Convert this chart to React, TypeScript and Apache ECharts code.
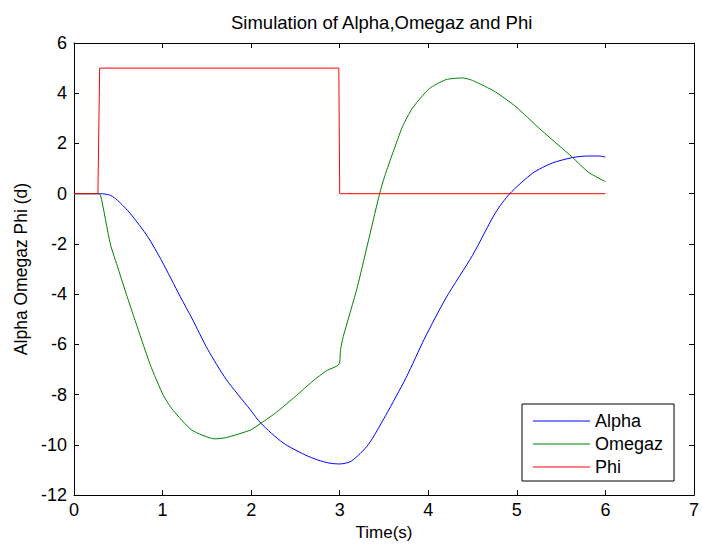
import React, { useEffect, useRef } from "react";
import * as echarts from "echarts";

const titleText = "Simulation of Alpha,Omegaz and Phi";
const xName = "Time(s)";
const yName = "Alpha Omegaz Phi (d)";
const seriesNames = ["Alpha", "Omegaz", "Phi"];
const seriesColors = ["#0000FF", "#008000", "#FF0000"];

const alphaData: [number, number][] = [
  [0, 0], [0.3, 0], [0.4, -0.05], [0.47, -0.2], [0.56, -0.5], [0.65, -0.85],
  [0.83, -1.7], [0.99, -2.67], [1.2, -4.1], [1.33, -4.95], [1.51, -6.2],
  [1.72, -7.4], [1.99, -8.6], [2.11, -9.14], [2.36, -9.92], [2.61, -10.4],
  [2.75, -10.6], [2.89, -10.73], [3.0, -10.76], [3.13, -10.65], [3.32, -10.0],
  [3.52, -8.82], [3.75, -7.32], [3.96, -5.75], [4.2, -4.15], [4.5, -2.45],
  [4.76, -0.75], [4.92, 0], [5.18, 0.82], [5.4, 1.22], [5.63, 1.44],
  [5.8, 1.5], [5.93, 1.5], [6.0, 1.46],
];

const omegazData: [number, number][] = [
  [0, 0], [0.27, 0], [0.3, -0.05], [0.41, -2.0], [0.5, -3.0], [0.6, -4.1],
  [0.86, -6.8], [1.01, -8.04], [1.12, -8.63], [1.33, -9.41], [1.59, -9.76],
  [1.72, -9.71], [1.99, -9.41], [2.11, -9.14], [2.29, -8.69], [2.51, -8.04],
  [2.7, -7.45], [2.85, -7.05], [2.99, -6.8], [3.01, -6.2], [3.04, -5.69],
  [3.2, -3.7], [3.45, 0], [3.51, 0.72], [3.6, 1.63], [3.71, 2.68], [3.82, 3.4],
  [4.01, 4.18], [4.2, 4.54], [4.39, 4.61], [4.5, 4.51], [4.76, 4.05],
  [4.99, 3.46], [5.25, 2.61], [5.63, 1.44], [5.81, 0.85], [6.0, 0.48],
];

const phiData: [number, number][] = [
  [0, 0], [0.27, 0], [0.29, 5], [2.99, 5], [3.0, 0], [6.0, 0],
];

const xMin = 0, xMax = 7, xInterval = 1;
const yMin = -12, yMax = 6, yInterval = 2;

const FONT = "'Liberation Sans', Arial, Helvetica, sans-serif";

export default function App() {
  const ref = useRef<HTMLDivElement>(null);
  useEffect(() => {
    if (!ref.current) return;
    const chart = echarts.init(ref.current, undefined, { renderer: "svg" });
    const axisLine = { show: true, onZero: false, lineStyle: { color: "#000", width: 1 } };
    const tick = { show: true, inside: true, length: 5, lineStyle: { color: "#000" } };
    chart.setOption({
      animation: false,
      backgroundColor: "#fff",
      textStyle: { fontFamily: FONT },
      title: {
        text: titleText,
        left: 226,
        top: 8,
        padding: 5,
        textStyle: { fontFamily: FONT, fontSize: 18.5, fontWeight: "normal", color: "#000" },
      },
      grid: { left: 74, right: 7, top: 43, bottom: 45, containLabel: false },
      legend: {
        data: seriesNames,
        orient: "vertical",
        left: 522,
        top: 404,
        padding: [8, 11, 5, 11],
        itemGap: 5,
        itemWidth: 57,
        itemHeight: 1.2,
        icon: "rect",
        borderColor: "#000",
        borderWidth: 1,
        backgroundColor: "#fff",
        textStyle: { fontFamily: FONT, fontSize: 18, color: "#000" },
      },
      xAxis: [
        {
          type: "value", min: xMin, max: xMax, interval: xInterval,
          name: xName, nameLocation: "middle", nameGap: 28,
          nameTextStyle: { fontFamily: FONT, fontSize: 17, color: "#000" },
          axisLine, axisTick: tick, splitLine: { show: false },
          axisLabel: { fontFamily: FONT, fontSize: 18, color: "#000", margin: 6 },
        },
        {
          type: "value", position: "top", min: xMin, max: xMax, interval: xInterval,
          axisLine, axisTick: tick, splitLine: { show: false }, axisLabel: { show: false },
        },
      ],
      yAxis: [
        {
          type: "value", min: yMin, max: yMax, interval: yInterval,
          name: yName, nameLocation: "middle", nameGap: 43,
          nameTextStyle: { fontFamily: FONT, fontSize: 17.5, color: "#000" },
          axisLine, axisTick: tick, splitLine: { show: false },
          axisLabel: { fontFamily: FONT, fontSize: 18, color: "#000", margin: 7 },
        },
        {
          type: "value", position: "right", min: yMin, max: yMax, interval: yInterval,
          axisLine, axisTick: tick, splitLine: { show: false }, axisLabel: { show: false },
        },
      ],
      series: [
        { name: seriesNames[0], type: "line", data: alphaData, symbol: "none", smooth: 0.25,
          lineStyle: { color: seriesColors[0], width: 1 }, itemStyle: { color: seriesColors[0] } },
        { name: seriesNames[1], type: "line", data: omegazData, symbol: "none", smooth: 0.2,
          lineStyle: { color: seriesColors[1], width: 1 }, itemStyle: { color: seriesColors[1] } },
        { name: seriesNames[2], type: "line", data: phiData, symbol: "none",
          lineStyle: { color: seriesColors[2], width: 1 }, itemStyle: { color: seriesColors[2] } },
      ],
    });
    return () => chart.dispose();
  }, []);
  return (
    <div
      ref={ref}
      style={{ position: "fixed", left: 0, top: 0, width: 702, height: 546, background: "#fff" }}
    />
  );
}
